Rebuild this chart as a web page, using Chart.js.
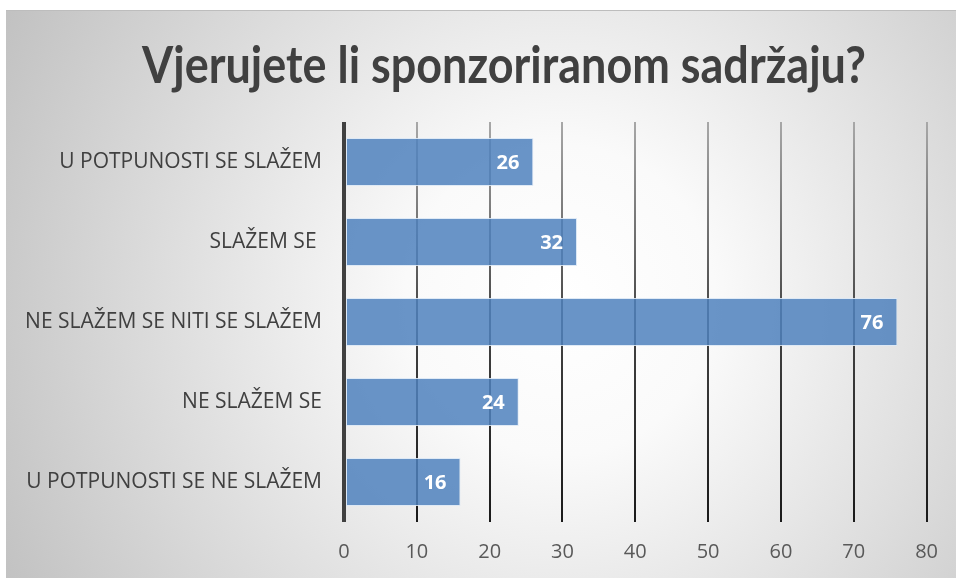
<!DOCTYPE html>
<html>
<head>
<meta charset="utf-8">
<script src="https://cdn.jsdelivr.net/npm/chart.js@4.4.1/dist/chart.umd.min.js"></script>
<style>
  html, body { margin: 0; padding: 0; background: #fff; }
  canvas { display: block; }
</style>
</head>
<body>
<canvas id="anketaChart" width="956" height="578"></canvas>
<script>
// podaci s grafikona
const naslov = 'Vjerujete li sponzoriranom sadržaju?';
const kategorije = ['U POTPUNOSTI SE SLAŽEM', 'SLAŽEM SE ', 'NE SLAŽEM SE NITI SE SLAŽEM', 'NE SLAŽEM SE', 'U POTPUNOSTI SE NE SLAŽEM'];
const odgovori = [26, 32, 76, 24, 16];
const xMin = 0;
const xMax = 80;
const xKorak = 10;

// pozadina s radijalnim gradijentom
const pozadinaPlugin = {
    id: 'pozadina',
    beforeDraw: function(chart) {
        const ctx = chart.ctx;
        ctx.save();
        ctx.fillStyle = '#ffffff';
        ctx.fillRect(0, 0, chart.width, chart.height);
        const g = ctx.createRadialGradient(560, 300, 0, 560, 300, 620);
        g.addColorStop(0, '#ffffff');
        g.addColorStop(0.25, '#fafafa');
        g.addColorStop(1, '#c2c2c2');
        ctx.fillStyle = g;
        ctx.fillRect(6, 10, chart.width - 6, chart.height - 10);
        ctx.fillStyle = '#bdbdbd';
        ctx.fillRect(6, 10, chart.width - 6, 1);

        // naslov
        ctx.fillStyle = '#404040';
        ctx.font = 'bold 52px Lato, "Open Sans", sans-serif';
        ctx.textAlign = 'center';
        ctx.textBaseline = 'alphabetic';
        ctx.fillText(naslov, 504, 83, 724);
        ctx.restore();
    }
};

// vrijednosti unutar stupaca
const oznakePlugin = {
    id: 'oznake',
    afterDatasetsDraw: function(chart) {
        const ctx = chart.ctx;
        const meta = chart.getDatasetMeta(0);
        ctx.save();
        ctx.fillStyle = '#ffffff';
        ctx.font = 'bold 20px "Open Sans", sans-serif';
        ctx.textAlign = 'right';
        ctx.textBaseline = 'middle';
        meta.data.forEach(function(bar, i) {
            ctx.fillText(String(odgovori[i]), bar.x - 14, bar.y + 1);
        });
        ctx.restore();
    }
};

function bojaMreze(context) {
    if (context.tick && context.tick.value === 0) {
        return '#404040';
    }
    const area = context.chart.chartArea;
    if (!area) {
        return '#555555';
    }
    const g = context.chart.ctx.createLinearGradient(0, area.top, 0, area.bottom);
    g.addColorStop(0, '#a8a8a8');
    g.addColorStop(0.5, '#444444');
    g.addColorStop(1, '#1a1a1a');
    return g;
}

const ctx = document.getElementById('anketaChart').getContext('2d');
const chart = new Chart(ctx, {
    type: 'bar',
    data: {
        labels: kategorije,
        datasets: [{
            label: 'Odgovori',
            data: odgovori,
            backgroundColor: 'rgba(79, 129, 189, 0.85)',
            borderColor: 'rgba(220, 232, 245, 0.9)',
            borderWidth: 1,
            borderSkipped: false,
            barPercentage: 0.6,
            categoryPercentage: 1.0
        }]
    },
    options: {
        indexAxis: 'y',
        responsive: false,
        animation: false,
        layout: {
            padding: { top: 122, right: 29, left: 0, bottom: 0 }
        },
        plugins: {
            legend: { display: false },
            title: { display: false },
            tooltip: { enabled: false }
        },
        scales: {
            x: {
                min: xMin,
                max: xMax,
                ticks: {
                    stepSize: xKorak,
                    color: '#595959',
                    padding: 18,
                    font: { family: '"Open Sans", sans-serif', size: 20 }
                },
                grid: {
                    drawTicks: false,
                    color: bojaMreze,
                    lineWidth: function(context) {
                        return context.tick && context.tick.value === 0 ? 4 : 2;
                    }
                },
                border: { display: false },
                afterFit: function(scale) {
                    scale.height = 56;
                }
            },
            y: {
                ticks: {
                    color: '#404040',
                    padding: 22,
                    font: { family: '"Open Sans", sans-serif', size: 21 }
                },
                grid: { display: false, drawTicks: false },
                border: { display: false },
                afterFit: function(scale) {
                    scale.width = 344;
                }
            }
        }
    },
    plugins: [pozadinaPlugin, oznakePlugin]
});
</script>
</body>
</html>
